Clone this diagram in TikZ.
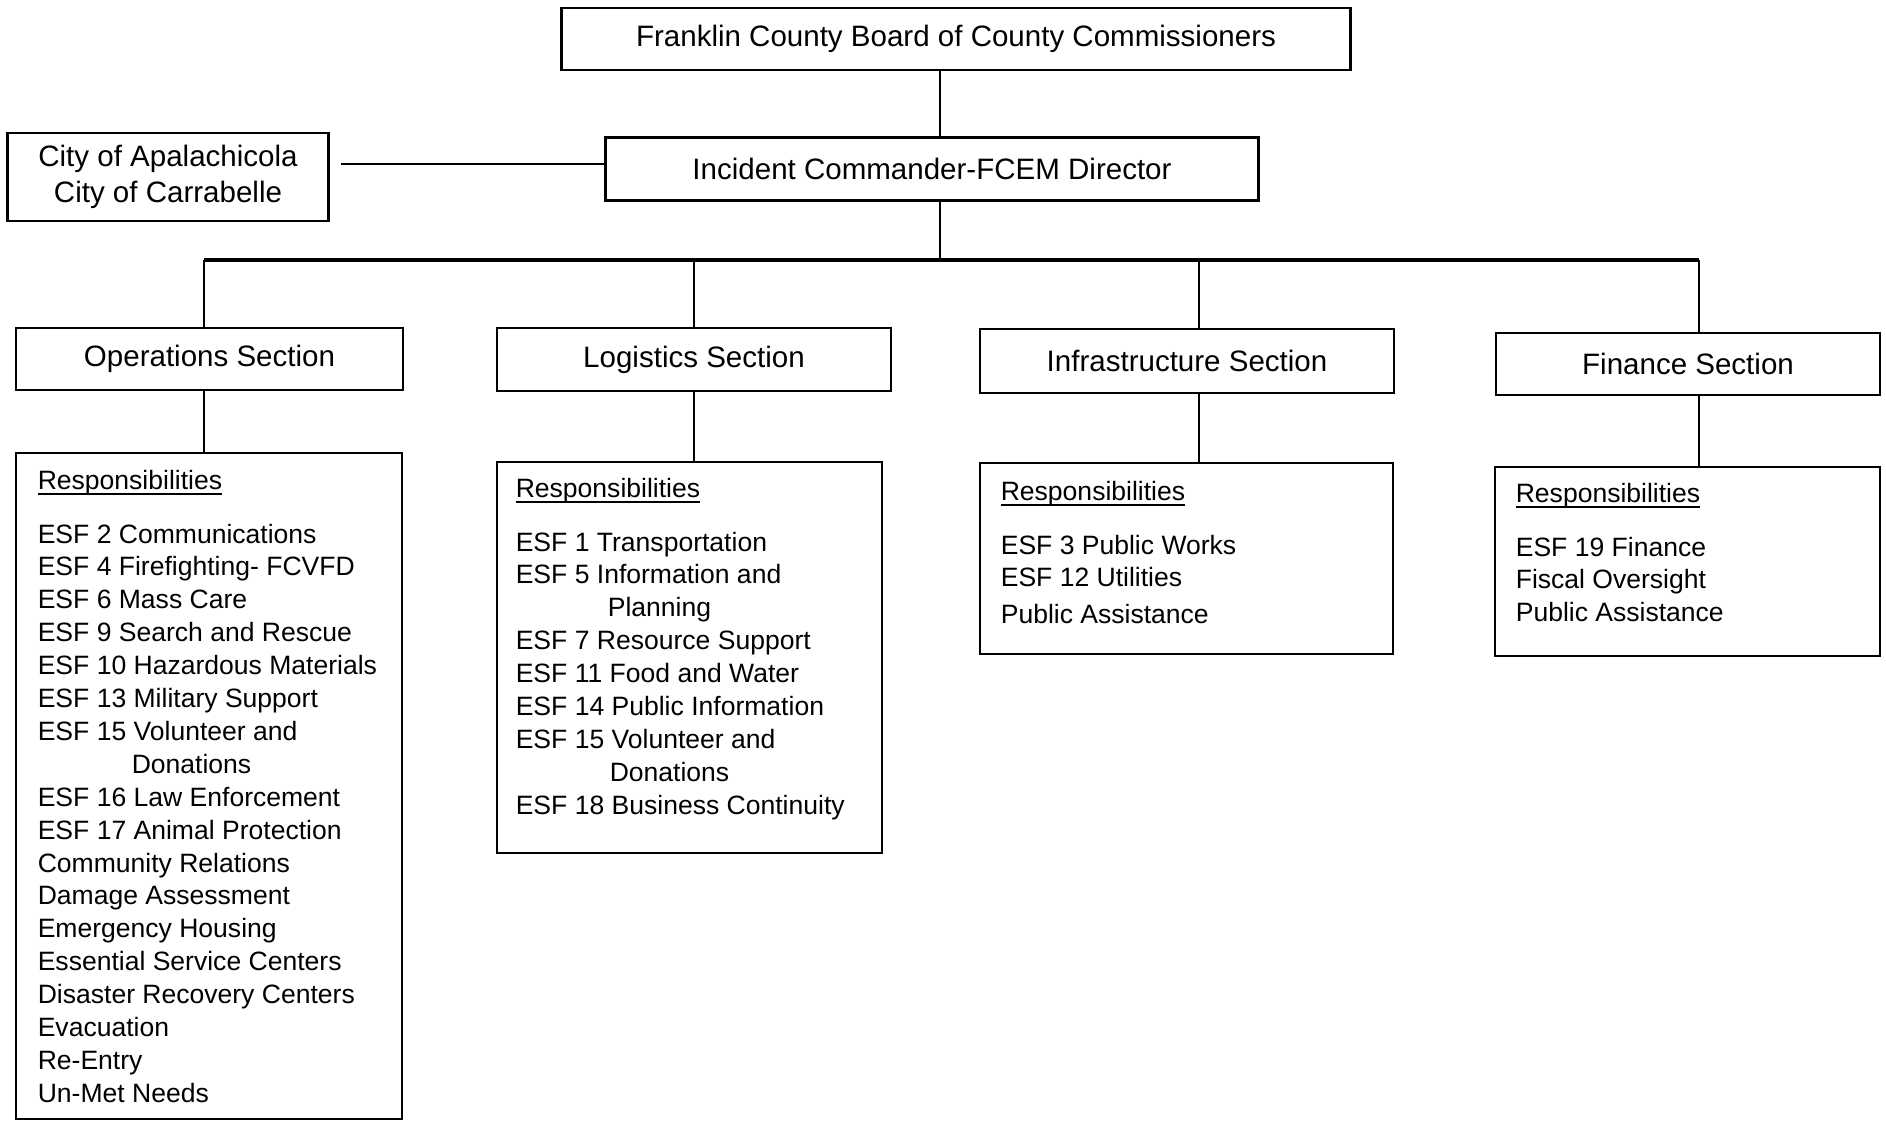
\documentclass[tikz,border=0pt]{standalone}
\usepackage{fontspec}
\setmainfont{Liberation Sans}

\newcommand{\headfont}{\fontsize{8.4}{10.2}\selectfont}
\newcommand{\listfont}{\fontsize{7.55}{9.36}\selectfont}
\newcommand{\dutyhead}{\underline{\raisebox{0pt}[\height][0pt]{Responsibilities}}}

\tikzset{%
        orgbox/.style={
                draw,
                line width=0.6pt,
                inner sep=0pt,
                align=center,
                font=\headfont
            },
        dutybox/.style={
                draw,
                line width=0.6pt,
                inner sep=0pt
            },
        duties/.style={
                anchor=north west,
                inner sep=0pt,
                align=left,
                font=\listfont
            }
    }

\begin{document}
\begin{tikzpicture}[line width=0.45pt]
    \useasboundingbox (0,0) rectangle (18.86,-11.22);

    % command levels:
        \node [orgbox, minimum width=7.89cm, minimum height=0.62cm]  (board) at (9.56,-0.39) {Franklin County Board of County Commissioners};
        \node [orgbox, minimum width=6.53cm, minimum height=0.63cm]  (cmdr) at (9.32,-1.69) {Incident Commander-FCEM Director};
        \node [orgbox, minimum width=3.21cm, minimum height=0.88cm]  (city) at (1.68,-1.77) {City of Apalachicola\\City of Carrabelle};

        \coordinate (bus) at (9.40,-2.60);
        \coordinate (dops) at (2.04,-2.60);
        \coordinate (dlog) at (6.94,-2.60);
        \coordinate (dinf) at (11.99,-2.60);
        \coordinate (dfin) at (16.99,-2.60);

        \draw (board.south -| bus) -- (cmdr.north -| bus);
        \draw (cmdr.south -| bus) -- (bus);
        \draw[shorten <=0.11cm] ([yshift=0.05cm]city.east |- cmdr.west) -- ([yshift=0.05cm]cmdr.west);
        \draw[line width=0.9pt] (dops) -- (dfin);

    % sections:
        \node [orgbox, minimum width=3.87cm, minimum height=0.62cm]  (ops) at (2.095,-3.59) {Operations Section};
        \node [orgbox, minimum width=3.94cm, minimum height=0.63cm]  (log) at (6.94,-3.595) {Logistics Section};
        \node [orgbox, minimum width=4.14cm, minimum height=0.64cm]  (inf) at (11.87,-3.61) {Infrastructure Section};
        \node [orgbox, minimum width=3.84cm, minimum height=0.62cm]  (fin) at (16.88,-3.64) {Finance Section};

        \draw (dops) -- (dops |- ops.north);
        \draw (dlog) -- (dlog |- log.north);
        \draw (dinf) -- (dinf |- inf.north);
        \draw (dfin) -- (dfin |- fin.north);

    % responsibilities:
        \node [dutybox, minimum width=3.86cm, minimum height=6.66cm]  (opsR) at (2.09,-7.86) {};
        \node [dutybox, minimum width=3.85cm, minimum height=3.91cm]  (logR) at (6.895,-6.575) {};
        \node [dutybox, minimum width=4.13cm, minimum height=1.91cm]  (infR) at (11.865,-5.585) {};
        \node [dutybox, minimum width=3.85cm, minimum height=1.89cm]  (finR) at (16.875,-5.615) {};

        \draw (ops.south -| dops) -- (opsR.north -| dops);
        \draw (log.south -| dlog) -- (logR.north -| dlog);
        \draw (inf.south -| dinf) -- (infR.north -| dinf);
        \draw (fin.south -| dfin) -- (finR.north -| dfin);

        \node [duties]  (opsL) at (0.37,-4.69) {\dutyhead\\[6pt]
            ESF 2 Communications\\
            ESF 4 Firefighting- FCVFD\\
            ESF 6 Mass Care\\
            ESF 9 Search and Rescue\\
            ESF 10 Hazardous Materials\\
            ESF 13 Military Support\\
            ESF 15 Volunteer and\\
            \hspace*{0.94cm}Donations\\
            ESF 16 Law Enforcement\\
            ESF 17 Animal Protection\\
            Community Relations\\
            Damage Assessment\\
            Emergency Housing\\
            Essential Service Centers\\
            Disaster Recovery Centers\\
            Evacuation\\
            Re-Entry\\
            Un-Met Needs};
        \node [duties]  (logL) at (5.15,-4.77) {\dutyhead\\[6pt]
            ESF 1 Transportation\\
            ESF 5 Information and\\
            \hspace*{0.92cm}Planning\\
            ESF 7 Resource Support\\
            ESF 11 Food and Water\\
            ESF 14 Public Information\\
            ESF 15 Volunteer and\\
            \hspace*{0.94cm}Donations\\
            ESF 18 Business Continuity};
        \node [duties]  (infL) at (10.00,-4.80) {\dutyhead\\[6pt]
            ESF 3 Public Works\\
            ESF 12 Utilities\\[1pt]
            Public Assistance};
        \node [duties]  (finL) at (15.15,-4.82) {\dutyhead\\[6pt]
            ESF 19 Finance\\
            Fiscal Oversight\\
            Public Assistance};
\end{tikzpicture}
\end{document}
